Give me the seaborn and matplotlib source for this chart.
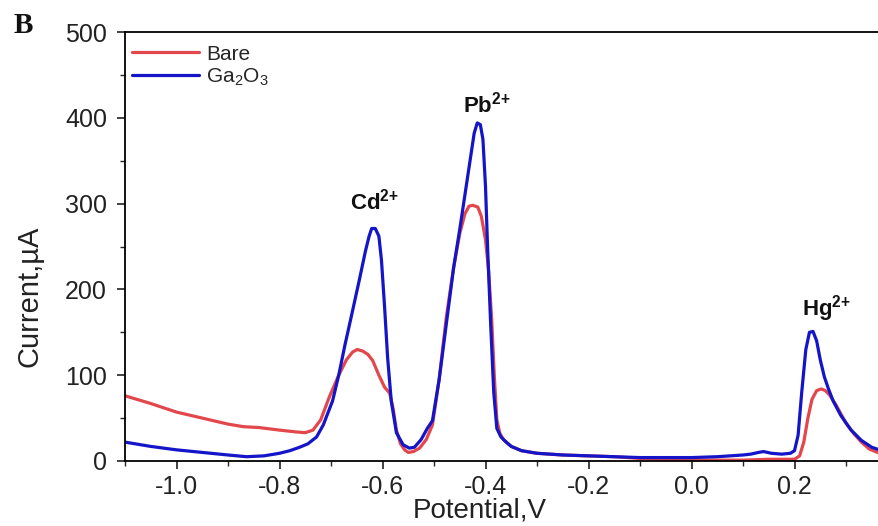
import numpy as np
import pandas as pd
import matplotlib
matplotlib.use("Agg")
import matplotlib.pyplot as plt
import seaborn as sns
from matplotlib.ticker import MultipleLocator

# Square-wave stripping voltammograms (potential in V, current in uA)
bare_potential = [-1.10, -1.05, -1.00, -0.95, -0.90, -0.87, -0.84, -0.80, -0.77, -0.75,
                  -0.735, -0.72, -0.703, -0.685, -0.67, -0.658, -0.649, -0.638, -0.628, -0.619,
                  -0.607, -0.596, -0.586, -0.579, -0.573, -0.565, -0.557, -0.550, -0.540, -0.528,
                  -0.515, -0.503, -0.49, -0.476, -0.462, -0.450, -0.440, -0.432, -0.425, -0.415,
                  -0.408, -0.400, -0.394, -0.388, -0.383, -0.378, -0.372, -0.365, -0.35, -0.33,
                  -0.30, -0.25, -0.20, -0.15, -0.10, -0.05, 0.00, 0.05, 0.10, 0.15,
                  0.20, 0.21, 0.218, 0.226, 0.234, 0.243, 0.252, 0.260, 0.268, 0.28,
                  0.29, 0.30, 0.315, 0.33, 0.345, 0.365]
bare_current = [76, 67, 57, 50, 43, 40, 39, 36, 34, 33,
                36, 48, 75, 100, 118, 127, 130, 128, 124, 117,
                100, 86, 79, 60, 36, 20, 13, 10, 11, 15,
                25, 42, 95, 168, 225, 265, 288, 297, 298, 296,
                285, 258, 222, 165, 100, 48, 32, 25, 17, 12,
                9, 7, 6, 5, 3, 2, 1, 1, 1, 2,
                2, 6, 22, 50, 72, 82, 84, 82, 77, 66,
                55, 44, 32, 22, 14, 9]

ga2o3_potential = [-1.10, -1.05, -1.00, -0.95, -0.90, -0.864, -0.83, -0.80, -0.78, -0.761,
                   -0.745, -0.728, -0.715, -0.697, -0.685, -0.673, -0.66, -0.645, -0.633, -0.626,
                   -0.621, -0.614, -0.607, -0.602, -0.596, -0.590, -0.583, -0.573, -0.560, -0.548,
                   -0.538, -0.525, -0.513, -0.503, -0.49, -0.476, -0.462, -0.450, -0.440, -0.430,
                   -0.422, -0.416, -0.410, -0.405, -0.400, -0.396, -0.390, -0.384, -0.378, -0.370,
                   -0.36, -0.35, -0.33, -0.30, -0.25, -0.20, -0.15, -0.10, -0.05, 0.00,
                   0.05, 0.10, 0.115, 0.13, 0.14, 0.155, 0.175, 0.192, 0.20, 0.207,
                   0.214, 0.222, 0.229, 0.236, 0.243, 0.250, 0.258, 0.266, 0.275, 0.29,
                   0.31, 0.33, 0.35, 0.365]
ga2o3_current = [22, 17, 13, 10, 7, 5, 6, 9, 12, 16,
                 20, 28, 42, 70, 100, 135, 170, 211, 245, 262,
                 271, 271, 262, 234, 180, 120, 70, 33, 19, 15,
                 16, 25, 38, 47, 95, 160, 225, 270, 310, 350,
                 382, 394, 392, 375, 320, 250, 160, 80, 38, 28,
                 22, 17, 12, 9, 7, 6, 5, 4, 4, 4,
                 5, 7, 8, 10, 11, 9, 8, 9, 12, 30,
                 80, 130, 150, 151, 140, 118, 98, 84, 70, 53,
                 36, 24, 16, 13]

series_names = ["Bare", "Ga$_2$O$_3$"]
series_colors = ["#E2474C", "#1414C8"]

peak_labels = [r"$\mathbf{Cd^{2{+}}}$", r"$\mathbf{Pb^{2{+}}}$", r"$\mathbf{Hg^{2{+}}}$"]
peak_label_x = [-0.616, -0.398, 0.262]
peak_label_y = [293, 406, 169]

x_ticks = [-1.0, -0.8, -0.6, -0.4, -0.2, 0.0, 0.2]
y_ticks = [0, 100, 200, 300, 400, 500]

df = pd.concat([
    pd.DataFrame({"Potential": bare_potential, "Current": bare_current,
                  "Electrode": series_names[0]}),
    pd.DataFrame({"Potential": ga2o3_potential, "Current": ga2o3_current,
                  "Electrode": series_names[1]}),
], ignore_index=True)

sns.set_theme(style="ticks")
plt.rcParams["font.family"] = ["Liberation Sans", "DejaVu Sans"]
plt.rcParams["mathtext.fontset"] = "custom"
plt.rcParams["mathtext.rm"] = "Liberation Sans"
plt.rcParams["mathtext.it"] = "Liberation Sans:italic"
plt.rcParams["mathtext.bf"] = "Liberation Sans:bold"

fig = plt.figure(figsize=(8.79, 5.26), dpi=100)
ax = fig.add_axes([125 / 879, 1 - 461 / 526, 772.5 / 879, 429 / 526])

sns.lineplot(data=df, x="Potential", y="Current", hue="Electrode",
             hue_order=series_names, palette=series_colors, sort=False,
             estimator=None, linewidth=2.3, ax=ax)

ax.set_xlim(-1.1, 0.4)
ax.set_ylim(0, 500)
ax.set_xticks(x_ticks)
ax.set_xticklabels([f"{t:.1f}" for t in x_ticks])
ax.set_yticks(y_ticks)
ax.xaxis.set_minor_locator(MultipleLocator(0.1))
ax.yaxis.set_minor_locator(MultipleLocator(50))
ax.tick_params(which="major", direction="out", length=6, width=1.2,
               labelsize=18, colors="#222222")
ax.tick_params(axis="x", which="major", pad=4)
ax.tick_params(axis="y", which="major", pad=7)
ax.tick_params(which="minor", direction="out", length=3.5, width=1.0)
for side in ["left", "bottom", "top"]:
    ax.spines[side].set_visible(True)
    ax.spines[side].set_linewidth(1.3)
    ax.spines[side].set_color("black")
ax.spines["right"].set_visible(False)

ax.set_xlabel("Potential,V", fontsize=20, color="#222222")
ax.xaxis.set_label_coords(0.4595, -0.086)
ax.set_ylabel("Current,\u00b5A", fontsize=21, color="#222222")
ax.yaxis.set_label_coords(-0.106, 0.385)

for text, px, py in zip(peak_labels, peak_label_x, peak_label_y):
    ax.text(px, py, text, ha="center", va="baseline", fontsize=16, color="#111111")

leg = ax.legend(loc="upper left", frameon=False, fontsize=15,
                handlelength=3.2, handletextpad=0.35, labelspacing=0.15,
                borderaxespad=0.2, bbox_to_anchor=(-0.007, 1.0))
for line in leg.get_lines():
    line.set_linewidth(2.3)

fig.text(0.015, 0.937, "B", fontsize=21, fontweight="bold",
         family=["Liberation Serif", "DejaVu Serif"], color="#111111")

fig.savefig("out.png", dpi=100)
